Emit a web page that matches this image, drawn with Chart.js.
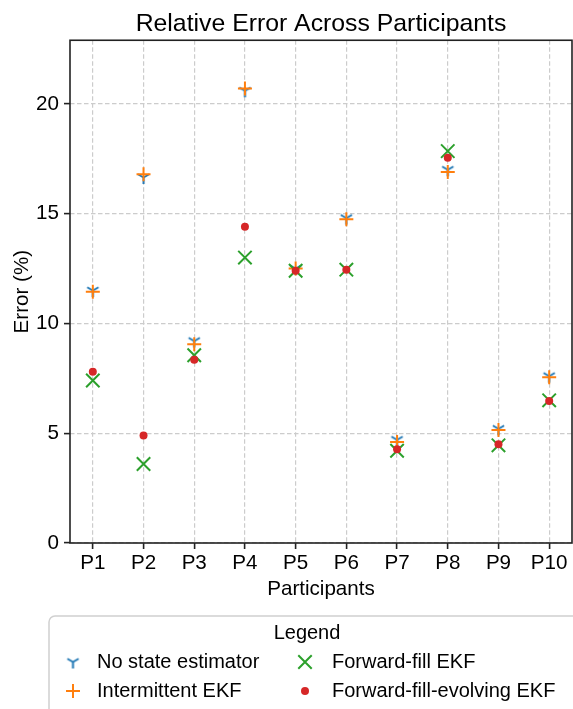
<!DOCTYPE html>
<html>
<head>
<meta charset="utf-8">
<script src="https://cdn.jsdelivr.net/npm/chart.js@4.4.0/dist/chart.umd.min.js"></script>
<style>
    html, body { margin: 0; padding: 0; background: #fff; }
    #wrap { width: 573px; height: 709px; position: relative; }
</style>
</head>
<body>
<div id="wrap"><canvas id="errorChart"></canvas></div>
<script>
// 참가자별 상대 오차 (%)
const participants = ["P1", "P2", "P3", "P4", "P5", "P6", "P7", "P8", "P9", "P10"];
const noStateEstimator = [11.5, 16.65, 9.2, 20.6, 12.5, 14.8, 4.7, 17.0, 5.2, 7.6];
const intermittentEkf = [11.45, 16.8, 9.05, 20.7, 12.5, 14.75, 4.6, 16.9, 5.15, 7.55];
const forwardFillEkf = [7.4, 3.6, 8.55, 13.0, 12.4, 12.45, 4.2, 17.85, 4.45, 6.5];
const forwardFillEvolvingEkf = [7.8, 4.9, 8.35, 14.4, 12.4, 12.45, 4.27, 17.55, 4.5, 6.47];
const yTicks = [0, 5, 10, 15, 20];

const FONT = "'Liberation Sans', Arial, sans-serif";
const BLUE = "#1f77b4", ORANGE = "#ff7f0e", GREEN = "#2ca02c", RED = "#d62728";
const PLOT_RIGHT = 572;

// matplotlib 의 tri_down 마커 (Y 모양)
function triDown(color, r, lw) {
    const c = document.createElement("canvas");
    const s = Math.ceil(2 * r + lw + 2);
    c.width = s;
    c.height = s;
    const g = c.getContext("2d");
    const cx = s / 2, cy = s / 2;
    g.strokeStyle = color;
    g.lineWidth = lw;
    g.beginPath();
    g.moveTo(cx, cy); g.lineTo(cx, cy + r);
    g.moveTo(cx, cy); g.lineTo(cx - 0.866 * r, cy - 0.5 * r);
    g.moveTo(cx, cy); g.lineTo(cx + 0.866 * r, cy - 0.5 * r);
    g.stroke();
    return c;
}
const triMarker = triDown(BLUE, 6.5, 2);

const toPoints = (arr) => arr.map((v, i) => ({ x: i, y: v }));

// 플롯 영역 오른쪽 끝 고정 (레이아웃이 남기는 여백 제거)
const stretchPlugin = {
    id: "stretchRight",
    afterLayout(chart) {
        const area = chart.chartArea;
        area.right = PLOT_RIGHT;
        area.width = PLOT_RIGHT - area.left;
        const x = chart.scales.x;
        x.right = PLOT_RIGHT;
        x.width = PLOT_RIGHT - x.left;
        x.configure();
        if (chart.titleBlock) {
            chart.titleBlock.right = PLOT_RIGHT;
            chart.titleBlock.width = PLOT_RIGHT - chart.titleBlock.left;
        }
    },
};

// 외곽선(spine)
const spinePlugin = {
    id: "spines",
    afterDatasetsDraw(chart) {
        const { ctx, chartArea: a } = chart;
        ctx.save();
        ctx.strokeStyle = "#222";
        ctx.lineWidth = 1.6;
        ctx.strokeRect(a.left, a.top, a.right - a.left, a.bottom - a.top);
        ctx.restore();
    },
};

// 범례 (2열, 제목 포함)
const legendPlugin = {
    id: "boxLegend",
    afterDraw(chart) {
        const ctx = chart.ctx;
        ctx.save();
        ctx.fillStyle = "#fff";
        ctx.strokeStyle = "#d0d0d0";
        ctx.lineWidth = 1.5;
        ctx.beginPath();
        ctx.roundRect(49, 616, 540, 110, 6);
        ctx.fill();
        ctx.stroke();

        ctx.fillStyle = "#000";
        ctx.font = "20px " + FONT;
        ctx.textBaseline = "middle";
        ctx.textAlign = "center";
        ctx.fillText("Legend", 307, 633);

        const items = [
            { ds: 0, mx: 73, tx: 97, y: 662 },
            { ds: 1, mx: 73, tx: 97, y: 691 },
            { ds: 2, mx: 305, tx: 332, y: 662 },
            { ds: 3, mx: 305, tx: 332, y: 691 },
        ];
        ctx.textAlign = "left";
        items.forEach((it) => {
            const ds = chart.data.datasets[it.ds];
            ctx.fillStyle = ds.backgroundColor;
            ctx.strokeStyle = ds.borderColor;
            ctx.lineWidth = ds.borderWidth;
            Chart.helpers.drawPoint(ctx, {
                pointStyle: ds.pointStyle,
                radius: ds.pointRadius,
                borderWidth: ds.borderWidth,
                rotation: 0,
            }, it.mx, it.y);
            ctx.fillStyle = "#000";
            ctx.fillText(ds.label, it.tx, it.y);
        });
        ctx.restore();
    },
};

const ctxErr = document.getElementById("errorChart").getContext("2d");

const errorChart = new Chart(ctxErr, {
    type: "scatter",
    data: {
        datasets: [
            {
                label: "No state estimator",
                data: toPoints(noStateEstimator),
                pointStyle: triMarker,
                pointRadius: 6.5,
                borderWidth: 2,
                borderColor: BLUE,
                backgroundColor: BLUE,
                order: 4,
            },
            {
                label: "Intermittent EKF",
                data: toPoints(intermittentEkf),
                pointStyle: "cross",
                pointRadius: 7,
                borderWidth: 2,
                borderColor: ORANGE,
                backgroundColor: ORANGE,
                order: 3,
            },
            {
                label: "Forward-fill EKF",
                data: toPoints(forwardFillEkf),
                pointStyle: "crossRot",
                pointRadius: 9.5,
                borderWidth: 2,
                borderColor: GREEN,
                backgroundColor: GREEN,
                order: 2,
            },
            {
                label: "Forward-fill-evolving EKF",
                data: toPoints(forwardFillEvolvingEkf),
                pointStyle: "circle",
                pointRadius: 4,
                borderWidth: 0,
                borderColor: RED,
                backgroundColor: RED,
                order: 1,
            },
        ],
    },
    options: {
        responsive: true,
        maintainAspectRatio: false,
        animation: false,
        events: [],
        layout: {
            padding: { left: 0, right: 1, top: 0, bottom: 104 },
        },
        plugins: {
            legend: { display: false },
            tooltip: { enabled: false },
            title: {
                display: true,
                fullSize: false,
                text: "Relative Error Across Participants",
                color: "#000",
                font: { family: FONT, size: 24.8, weight: "normal" },
                padding: { top: 9, bottom: 1.5 },
            },
        },
        scales: {
            x: {
                type: "linear",
                min: -0.45,
                max: 9.45,
                afterFit: (scale) => {
                    scale.height = 62;
                },
                afterBuildTicks: (scale) => {
                    scale.ticks = participants.map((p, i) => ({ value: i }));
                },
                border: { display: false, dash: [4.5, 2.5] },
                grid: {
                    color: "#cccccc",
                    lineWidth: 1.2,
                    tickColor: "#222",
                    tickLength: 6,
                    tickWidth: 1.6,
                    tickBorderDash: [],
                },
                ticks: {
                    color: "#000",
                    font: { family: FONT, size: 20.6 },
                    padding: 2,
                    maxRotation: 0,
                    callback: (value) => participants[value],
                },
                title: {
                    display: true,
                    text: "Participants",
                    color: "#000",
                    font: { family: FONT, size: 20.6 },
                    padding: { top: 0, bottom: 3 },
                },
            },
            y: {
                min: 0,
                max: 22.9,
                afterFit: (scale) => {
                    scale.width = 70;
                    scale.paddingTop = 0;
                    scale.paddingBottom = 0;
                },
                afterBuildTicks: (scale) => {
                    scale.ticks = yTicks.map((v) => ({ value: v }));
                },
                border: { display: false, dash: [4.5, 2.5] },
                grid: {
                    color: "#cccccc",
                    lineWidth: 1.2,
                    tickColor: "#222",
                    tickLength: 6,
                    tickWidth: 1.6,
                    tickBorderDash: [],
                },
                ticks: {
                    color: "#000",
                    font: { family: FONT, size: 20.6 },
                    padding: 5,
                },
                title: {
                    display: true,
                    text: "Error (%)",
                    color: "#000",
                    font: { family: FONT, size: 20.6 },
                    padding: { top: 10, bottom: 0 },
                },
            },
        },
    },
    plugins: [stretchPlugin, spinePlugin, legendPlugin],
});
</script>
</body>
</html>
